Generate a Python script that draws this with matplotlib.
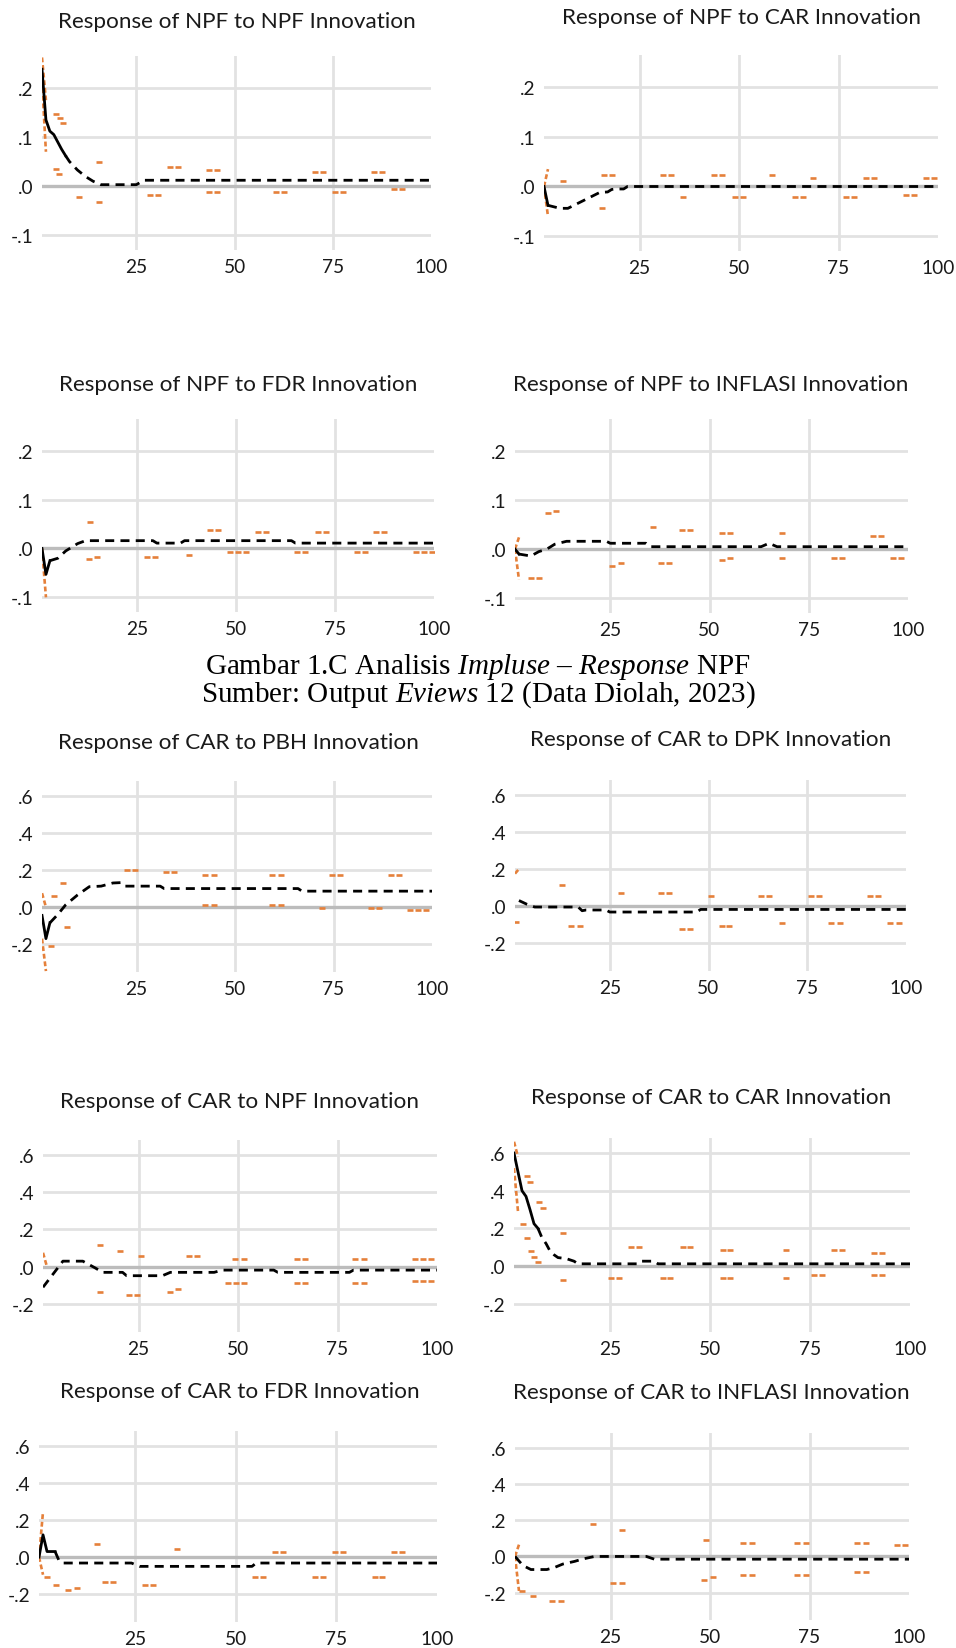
import matplotlib
matplotlib.use('Agg')
import matplotlib.pyplot as plt
from matplotlib.ticker import FuncFormatter

plt.rcParams['lines.scale_dashes'] = False
plt.rcParams['mathtext.fontset'] = 'custom'
plt.rcParams['mathtext.rm'] = 'Liberation Serif'
plt.rcParams['mathtext.it'] = 'Liberation Serif:italic'

# ---- data (periods 1..100) ----
# response lines: breakpoints; bands: the short orange dashes that are visible
npf_npf_x = [1, 2, 3, 4, 5, 6, 7, 8, 10, 12, 14, 16, 25, 27, 100]
npf_npf_y = [0.238, 0.135, 0.112, 0.105, 0.09, 0.075, 0.062, 0.05, 0.033, 0.02, 0.01, 0.003, 0.003, 0.012, 0.012]
npf_npf_lead_hi = [0.262, 0.175]
npf_npf_lead_lo = [0.215, 0.07]
npf_npf_band_x = [4.6, 5.5, 6.4, 4.5, 5.4, 10.5, 15.5, 15.5, 28.5, 30.5, 33.5, 35.5, 43.5, 45.5, 43.5, 45.5,
                  60.5, 62.5, 70.5, 72.5, 75.5, 77.5, 85.5, 87.5, 90.5, 92.5]
npf_npf_band_y = [0.147, 0.138, 0.128, 0.035, 0.025, -0.022, 0.05, -0.033, -0.017, -0.017, 0.039, 0.039, 0.033, 0.033,
                  -0.012, -0.012, -0.012, -0.012, 0.028, 0.028, -0.012, -0.012, 0.028, 0.028, -0.006, -0.006]

npf_car_x = [1, 2, 3, 5, 7, 10, 13, 15, 17, 18, 19, 21, 22, 100]
npf_car_y = [0, -0.038, -0.04, -0.044, -0.044, -0.032, -0.02, -0.012, -0.011, -0.006, -0.005, -0.005, 0, 0]
npf_car_lead_hi = [0, 0.035]
npf_car_lead_lo = [0, -0.06]
npf_car_band_x = [5.8, 15.6, 16, 18, 31, 33, 36, 43.8, 45.8, 49, 51, 58.2, 64, 66, 68.6, 77, 79, 82, 84, 92, 94, 97, 99]
npf_car_band_y = [0.011, -0.044, 0.023, 0.023, 0.023, 0.023, -0.021, 0.023, 0.023, -0.021, -0.021, 0.023, -0.021,
                  -0.021, 0.017, -0.021, -0.021, 0.017, 0.017, -0.017, -0.017, 0.017, 0.017]

npf_fdr_x = [1, 2, 3, 5, 7, 10, 12, 29, 30, 36, 37, 64, 65, 100]
npf_fdr_y = [0, -0.053, -0.025, -0.02, -0.005, 0.01, 0.016, 0.016, 0.011, 0.011, 0.016, 0.016, 0.011, 0.011]
npf_fdr_lead_hi = None
npf_fdr_lead_lo = [0, -0.1]
npf_fdr_band_x = [13.1, 12.8, 14.8, 27.6, 29.6, 38.2, 43.5, 45.5, 48.5, 50.5, 52.5, 55.5, 57.5, 65.5, 67.5, 70.8, 72.8,
                  80.6, 82.6, 85.4, 87.4, 95.5, 97.5, 99.5]
npf_fdr_band_y = [0.055, -0.022, -0.018, -0.018, -0.018, -0.013, 0.038, 0.038, -0.007, -0.007, -0.007, 0.033, 0.033,
                  -0.007, -0.007, 0.033, 0.033, -0.007, -0.007, 0.033, 0.033, -0.007, -0.007, -0.007]

npf_inf_x = [1, 2, 5, 7, 9, 11, 14, 24, 25, 34, 35, 63, 65, 67, 100]
npf_inf_y = [0, -0.01, -0.014, -0.005, 0, 0.01, 0.016, 0.016, 0.012, 0.012, 0.005, 0.005, 0.012, 0.005, 0.005]
npf_inf_lead_hi = [0, 0.024]
npf_inf_lead_lo = [0, -0.062]
npf_inf_band_x = [5, 7, 9.2, 11.3, 25.5, 27.6, 35.7, 37.8, 39.8, 43, 45, 53.2, 55.2, 53.2, 55.2, 68.3, 68.3,
                  81.3, 83.3, 91.3, 93.3, 96.3, 98.3]
npf_inf_band_y = [-0.058, -0.058, 0.074, 0.078, -0.034, -0.029, 0.045, -0.029, -0.029, 0.038, 0.038, 0.033, 0.033,
                  -0.023, -0.018, 0.033, -0.018, -0.018, -0.018, 0.027, 0.027, -0.018, -0.018]

car_pbh_x = [1, 2, 3, 5, 7, 10, 13, 16, 19, 21, 22, 31, 32, 66, 67, 100]
car_pbh_y = [-0.045, -0.17, -0.085, -0.04, 0.012, 0.065, 0.11, 0.113, 0.13, 0.132, 0.113, 0.113, 0.1, 0.1, 0.086, 0.086]
car_pbh_lead_hi = [0.075, 0.0]
car_pbh_lead_lo = [-0.17, -0.345]
car_pbh_band_x = [4, 6.3, 3.3, 7.3, 22.7, 24.7, 32.5, 34.6, 42.5, 44.6, 42.5, 44.6, 59.5, 61.6, 59.5, 61.6, 72.2,
                  74.6, 76.6, 84.5, 86.6, 89.5, 91.6, 94.5, 96.5, 98.5]
car_pbh_band_y = [0.06, 0.13, -0.21, -0.11, 0.2, 0.2, 0.19, 0.19, 0.175, 0.175, 0.01, 0.01, 0.175, 0.175, 0.01, 0.01,
                  -0.004, 0.175, 0.175, -0.004, -0.004, 0.175, 0.175, -0.018, -0.018, -0.018]

car_dpk_x = [2, 4, 6, 17, 18, 19, 24, 25, 47, 48, 100]
car_dpk_y = [0.03, 0.01, -0.005, -0.005, -0.025, -0.021, -0.021, -0.032, -0.032, -0.018, -0.018]
car_dpk_lead_hi = [0.175, 0.2]
car_dpk_lead_lo = None
car_dpk_band_x = [1.2, 13, 15.3, 17.5, 27.9, 38, 40, 43.2, 45.2, 50.7, 53.3, 55.3, 63.2, 65.2, 68.6, 76, 78,
                  81, 83.2, 91, 93, 96, 98.2]
car_dpk_band_y = [-0.085, 0.113, -0.108, -0.108, 0.07, 0.07, 0.07, -0.122, -0.122, 0.054, -0.108, -0.108, 0.054,
                  0.054, -0.093, 0.054, 0.054, -0.093, -0.093, 0.054, 0.054, -0.093, -0.093]

car_npf_x = [1, 6, 11, 14, 16, 21, 22, 31, 33, 44, 46, 59, 60, 78, 79, 100]
car_npf_y = [-0.11, 0.03, 0.03, -0.005, -0.03, -0.03, -0.048, -0.048, -0.03, -0.03, -0.018, -0.018, -0.03, -0.03,
             -0.018, -0.018]
car_npf_lead_hi = [0.075, 0.0]
car_npf_lead_lo = None
car_npf_band_x = [15.2, 15.2, 20.4, 25.5, 22.5, 24.6, 33, 35, 37.6, 39.8, 49.3, 51.4, 47.6, 49.5, 51.4, 64.8, 66.8,
                  64.8, 66.8, 79.5, 81.6, 79.5, 81.6, 94.5, 96.5, 98.5, 94.5, 96.5, 98.5]
car_npf_band_y = [0.116, -0.133, 0.085, 0.059, -0.151, -0.151, -0.133, -0.119, 0.057, 0.057, 0.041, 0.041, -0.089,
                  -0.089, -0.089, 0.041, 0.041, -0.089, -0.089, 0.041, 0.041, -0.089, -0.089, 0.041, 0.041, 0.041,
                  -0.075, -0.075, -0.075]

car_car_x = [1, 2, 3, 4, 5, 6, 7, 8, 9, 10, 11, 12, 14, 16, 17, 32, 33, 36, 37, 100]
car_car_y = [0.6, 0.5, 0.4, 0.37, 0.3, 0.225, 0.2, 0.15, 0.12, 0.08, 0.06, 0.045, 0.04, 0.026, 0.012, 0.012, 0.026,
             0.026, 0.012, 0.012]
car_car_lead_hi = [0.66, 0.58]
car_car_lead_lo = [0.52, 0.29]
car_car_band_x = [4.2, 5, 7.2, 8.3, 3.2, 4.25, 5.2, 6.1, 6.9, 13.2, 13.2, 25.3, 27.2, 30.3, 32.2, 38.2, 40.1, 43.2,
                  45.1, 53.2, 55.1, 53.2, 55.1, 69, 69, 76.1, 78.1, 81.1, 83.1, 91.1, 93.1, 91.1, 93.1]
car_car_band_y = [0.48, 0.445, 0.34, 0.31, 0.225, 0.15, 0.08, 0.05, 0.02, 0.177, -0.073, -0.061, -0.061, 0.101, 0.101,
                  -0.061, -0.061, 0.101, 0.101, 0.084, 0.084, -0.061, -0.061, 0.084, -0.061, -0.047, -0.047, 0.084,
                  0.084, 0.072, 0.072, -0.047, -0.047]

car_fdr_x = [1, 2, 3, 5, 6, 7, 24, 26, 54, 55, 100]
car_fdr_y = [0.0, 0.12, 0.03, 0.03, -0.02, -0.032, -0.032, -0.05, -0.05, -0.032, -0.032]
car_fdr_lead_hi = [0.0, 0.245]
car_fdr_lead_lo = [0.0, -0.095]
car_fdr_band_x = [3.1, 5.2, 8.2, 10.4, 15.5, 17.5, 19.4, 27.4, 29.3, 35.3, 54.7, 56.6, 59.6, 61.6, 69.6, 71.6, 74.6,
                  76.5, 84.5, 86.4, 89.4, 91.3]
car_fdr_band_y = [-0.107, -0.149, -0.178, -0.167, 0.07, -0.134, -0.134, -0.152, -0.152, 0.043, -0.108, -0.108, 0.027,
                  0.027, -0.108, -0.108, 0.027, 0.027, -0.108, -0.108, 0.027, 0.027]

car_inf_x = [1, 3, 5, 9, 11, 13, 16, 18, 21, 34, 36, 100]
car_inf_y = [0, -0.05, -0.072, -0.072, -0.06, -0.042, -0.027, -0.014, 0, 0, -0.015, -0.015]
car_inf_lead_hi = [0, 0.065]
car_inf_lead_lo = [0, -0.19]
car_inf_band_x = [2.7, 5.6, 10.2, 12.5, 20.6, 27.9, 25.5, 27.8, 49.1, 48.6, 50.8, 58.4, 60.6, 58.4, 60.6, 71.8, 74.1,
                  71.8, 74.1, 86.9, 89.1, 86.9, 89.1, 96.9, 99.1]
car_inf_band_y = [-0.19, -0.219, -0.246, -0.246, 0.179, 0.148, -0.145, -0.145, 0.089, -0.128, -0.114, 0.076, 0.076,
                  -0.1, -0.1, 0.076, 0.076, -0.1, -0.1, 0.076, 0.076, -0.083, -0.083, 0.061, 0.061]

titles = ['Response of NPF to NPF Innovation', 'Response of NPF to CAR Innovation',
          'Response of NPF to FDR Innovation', 'Response of NPF to INFLASI Innovation',
          'Response of CAR to PBH Innovation', 'Response of CAR to DPK Innovation',
          'Response of CAR to NPF Innovation', 'Response of CAR to CAR Innovation',
          'Response of CAR to FDR Innovation', 'Response of CAR to INFLASI Innovation']
npf_yticks = [-0.1, 0.0, 0.1, 0.2]
car_yticks = [-0.2, 0.0, 0.2, 0.4, 0.6]
xticks = [25, 50, 75, 100]
caption1 = r'Gambar 1.C Analisis $\mathit{Impluse}$ – $\mathit{Response}$ NPF'
caption2 = r'Sumber: Output $\mathit{Eviews}$ 12 (Data Diolah, 2023)'

panels = [
    (npf_npf_x, npf_npf_y, 7, npf_npf_lead_hi, npf_npf_lead_lo, npf_npf_band_x, npf_npf_band_y),
    (npf_car_x, npf_car_y, 2, npf_car_lead_hi, npf_car_lead_lo, npf_car_band_x, npf_car_band_y),
    (npf_fdr_x, npf_fdr_y, 3, npf_fdr_lead_hi, npf_fdr_lead_lo, npf_fdr_band_x, npf_fdr_band_y),
    (npf_inf_x, npf_inf_y, 2, npf_inf_lead_hi, npf_inf_lead_lo, npf_inf_band_x, npf_inf_band_y),
    (car_pbh_x, car_pbh_y, 3, car_pbh_lead_hi, car_pbh_lead_lo, car_pbh_band_x, car_pbh_band_y),
    (car_dpk_x, car_dpk_y, 0, car_dpk_lead_hi, car_dpk_lead_lo, car_dpk_band_x, car_dpk_band_y),
    (car_npf_x, car_npf_y, 0, car_npf_lead_hi, car_npf_lead_lo, car_npf_band_x, car_npf_band_y),
    (car_car_x, car_car_y, 7, car_car_lead_hi, car_car_lead_lo, car_car_band_x, car_car_band_y),
    (car_fdr_x, car_fdr_y, 4, car_fdr_lead_hi, car_fdr_lead_lo, car_fdr_band_x, car_fdr_band_y),
    (car_inf_x, car_inf_y, 0, car_inf_lead_hi, car_inf_lead_lo, car_inf_band_x, car_inf_band_y),
]

# ---- layout in pixels: x of period 1, x of period 100, top, bottom; title centre ----
boxes = [(42, 431, 57, 251), (544, 938, 56, 252),
         (42, 434, 420, 613), (515, 908, 420, 614),
         (42, 432, 782, 973), (515, 906, 781, 972),
         (43, 437, 1141, 1333), (514, 910, 1139, 1333),
         (39, 437, 1432, 1623), (515, 909, 1434, 1621)]
title_pos = [(237, 22), (741, 18), (238, 385), (711, 385), (238, 743),
             (711, 740), (240, 1102), (711, 1098), (240, 1392), (711, 1393)]

ORANGE = '#e5803a'
GRID = '#e2e2e2'
ZERO = '#bcbcbc'
FONT = 'Lato'
W, H = 956, 1649

fig = plt.figure(figsize=(W / 100, H / 100), dpi=100)


def short_label(v, pos):
    return f'{v:.1f}'.replace('0.', '.')


for i, (rx, ry, n_solid, lead_hi, lead_lo, bx, by) in enumerate(panels):
    x1, x100, top, bot = boxes[i]
    ax = fig.add_axes([x1 / W, 1 - bot / H, (x100 - x1) / W, (bot - top) / H])
    if i < 4:
        ax.set_ylim(-0.13, 0.265)
        ax.set_yticks(npf_yticks)
    else:
        ax.set_ylim(-0.35, 0.68)
        ax.set_yticks(car_yticks)
    ax.set_xlim(1, 100)
    ax.set_xticks(xticks)
    ax.yaxis.set_major_formatter(FuncFormatter(short_label))
    ax.grid(axis='y', color=GRID, lw=2.0)
    for t in xticks[:-1]:
        ax.axvline(t, color=GRID, lw=2.0, zorder=0.5)
    ax.set_axisbelow(True)
    for s in ax.spines.values():
        s.set_visible(False)
    ax.tick_params(length=0, labelsize=13.8, labelcolor='#1a1a1a', pad=6)
    for lab in ax.get_xticklabels() + ax.get_yticklabels():
        lab.set_family(FONT)
    ax.axhline(0, color=ZERO, lw=2.4, zorder=1.5)

    # +/- 2 S.E. bands
    for lead in (lead_hi, lead_lo):
        if lead is not None:
            ax.plot([1, 2], lead, color=ORANGE, lw=1.9, dashes=(3.5, 2.0), zorder=2)
    ax.plot(bx, by, linestyle='none', marker='_', ms=4.6, mew=1.9, color=ORANGE, zorder=2)

    # response
    if n_solid > 1:
        ax.plot(rx[:n_solid], ry[:n_solid], color='black', lw=2.0, zorder=3)
        ax.plot(rx[n_solid - 1:], ry[n_solid - 1:], color='black', lw=2.0, dashes=(6.5, 4.5), zorder=3)
    else:
        ax.plot(rx, ry, color='black', lw=2.0, dashes=(6.5, 4.5), zorder=3)

    cx, cy = title_pos[i]
    fig.text(cx / W, 1 - cy / H, titles[i], ha='center', va='center', fontsize=16.2, family=FONT, color='#1a1a1a')

fig.text(478 / W, 1 - 667 / H, caption1, ha='center', va='center', fontsize=21, family='Liberation Serif')
fig.text(478 / W, 1 - 695 / H, caption2, ha='center', va='center', fontsize=21, family='Liberation Serif')

fig.savefig('out.png', dpi=100)
